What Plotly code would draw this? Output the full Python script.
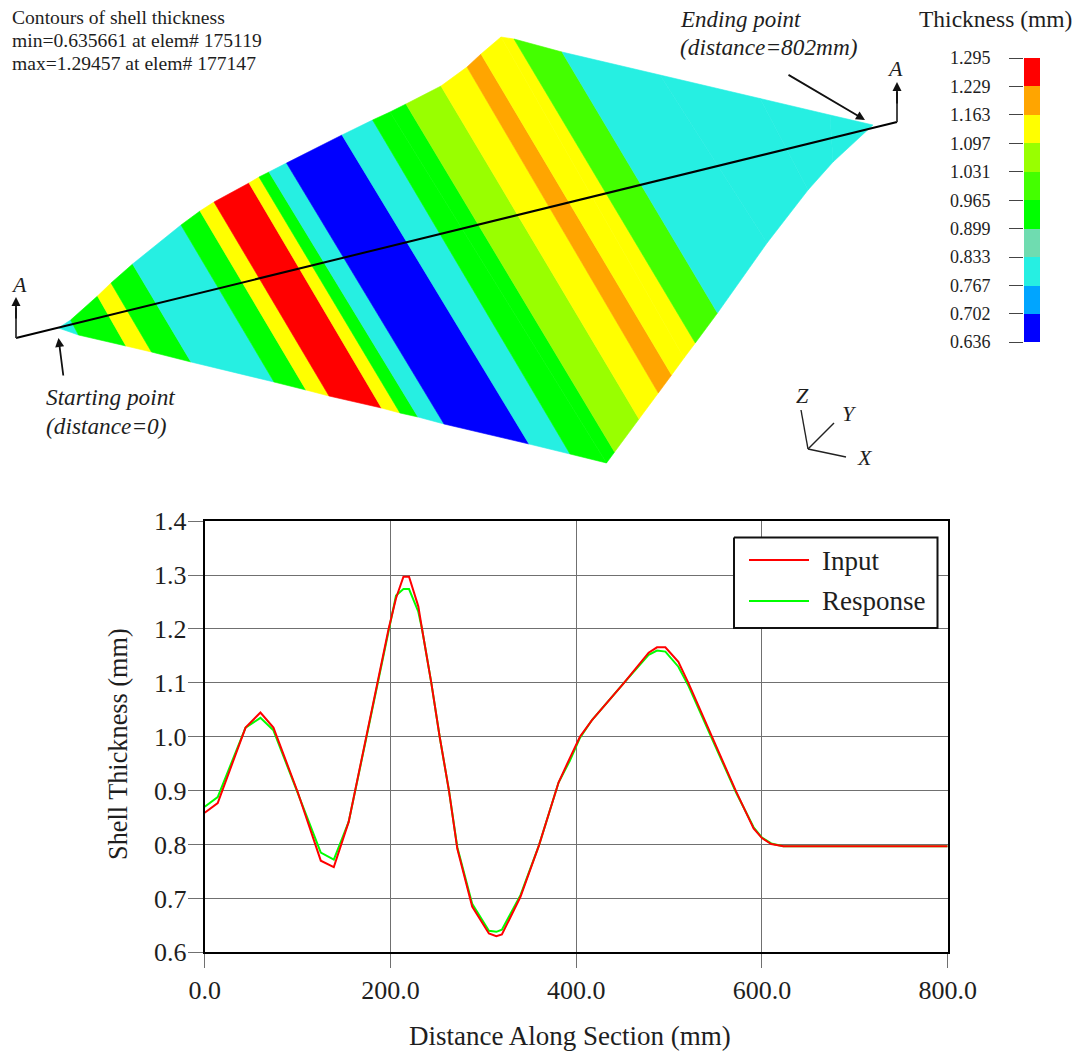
import plotly.graph_objects as go

# ---------- section curves ----------
distance = [0,14,44,60,74,100,125,139,155,175,198,206,214,220,230,234,244,253,263,272,288,306,314,320,340,360,381,393,404,417,451,478,487,496,510,521,546,572,591,600,610,623,700,800]
input_thickness = [.859,.877,1.017,1.045,1.017,.898,.77,.758,.842,1.006,1.2,1.257,1.297,1.297,1.242,1.2,1.1,1.0,.9,.792,.685,.635,.630,.633,.703,.799,.915,.96,1.0,1.031,1.099,1.156,1.166,1.166,1.139,1.099,1.0,.899,.83,.812,.801,.797,.797,.797]
response_thickness = [.87,.888,1.017,1.035,1.012,.898,.785,.772,.842,1.006,1.2,1.262,1.274,1.274,1.232,1.2,1.1,1.0,.9,.795,.69,.640,.638,.642,.706,.799,.915,.955,.998,1.031,1.099,1.152,1.16,1.158,1.13,1.094,.997,.897,.832,.813,.802,.797,.797,.797]

# ---------- colour scale ----------
level_values = [0.636,0.702,0.767,0.833,0.899,0.965,1.031,1.097,1.163,1.229,1.295]
level_labels = ["0.636","0.702","0.767","0.833","0.899","0.965","1.031","1.097","1.163","1.229","1.295"]
BLUE, SKY, CYAN, TEAL, G0, G1, G2, YEL, ORG, RED = "#0000ff","#00a5ff","#26efe2","#6fdcb0","#00ff00","#44ff00","#99ff00","#ffff00","#ffa500","#ff0000"
level_colors = [BLUE,SKY,CYAN,TEAL,G0,G1,G2,YEL,ORG,RED]

# ---------- contour bands of the sheet (drawing-space readings) ----------
edge_upper_x = [58.5,70.6,97.5,111,132.6,181,200,214,249,259,269,286.5,342,372.6,390,406,441,467,481,501,514,562,660,760,830,873,873]
edge_upper_y = [328,320,296,283,264,225,211,202,183,177,172,163,135,120,112,104,86,67,54,37,39,52,75,98.5,115,125,125]
edge_lower_x = [58.5,78.5,126,151.5,191,274,306,329,381.5,400,418,444,529,570,606.5,614.6,639,658.3,671.6,684,695.3,717.5,767,808,833,873,873]
edge_lower_y = [328,335,346,352,362,382,390,396,408,413,417,424,444,454,463,452,419,393,375,358,343,313,243,190,162,125,125]
band_colors = [CYAN,G0,YEL,G0,CYAN,G0,YEL,RED,YEL,G0,CYAN,BLUE,CYAN,G0,G0,G2,YEL,ORG,YEL,YEL,G1,CYAN,CYAN,CYAN,CYAN,CYAN]

section_x = [16,897]
section_y = [338,122]

serif = "Liberation Serif"
ink = "#1e1e1e"
grid = "#707070"
W, H = 1080, 1055

fig = go.Figure()

# main chart
fig.add_trace(go.Scatter(x=distance, y=response_thickness, mode="lines", name="Response",
                         line=dict(color="#00ff00", width=2), showlegend=False))
fig.add_trace(go.Scatter(x=distance, y=input_thickness, mode="lines", name="Input",
                         line=dict(color="#ff0000", width=2), showlegend=False))

# contour bands
for i, c in enumerate(band_colors):
    px = [edge_upper_x[i], edge_upper_x[i+1], edge_lower_x[i+1], edge_lower_x[i], edge_upper_x[i]]
    py = [edge_upper_y[i], edge_upper_y[i+1], edge_lower_y[i+1], edge_lower_y[i], edge_upper_y[i]]
    fig.add_trace(go.Scatter(x=px, y=py, xaxis="x2", yaxis="y2", mode="lines", fill="toself",
                             fillcolor=c, line=dict(color=c, width=0.6), hoverinfo="skip", showlegend=False))

def ink_line(xs, ys, color="#111111", width=1.6):
    fig.add_trace(go.Scatter(x=xs, y=ys, xaxis="x2", yaxis="y2", mode="lines",
                             line=dict(color=color, width=width), hoverinfo="skip", showlegend=False))

ink_line(section_x, section_y, "#000000", 2)
ink_line([16,16], [338,308], "#333333", 1.8)
ink_line([897,897], [122,92], "#333333", 1.8)
ink_line([808,801], [449,410], "#222222", 1.4)
ink_line([808,834], [449,423], "#222222", 1.4)
ink_line([808,846], [449,457], "#222222", 1.4)

# legend box
fig.add_trace(go.Scatter(x=[734,937.5,937.5,734,734], y=[537.5,537.5,628,628,537.5], xaxis="x2", yaxis="y2",
                         mode="lines", fill="toself", fillcolor="white", line=dict(color="#111111", width=2),
                         hoverinfo="skip", showlegend=False))
ink_line([749,809], [560,560], "#ff0000", 2)
ink_line([749,809], [601,601], "#00ff00", 2)

# colour bar as stacked bars on its own value axis
fig.add_trace(go.Bar(x=[0]*10, y=[level_values[i+1]-level_values[i] for i in range(10)], base=level_values[:-1],
                     xaxis="x3", yaxis="y3", marker=dict(color=level_colors, line=dict(width=0)),
                     width=1, hoverinfo="skip", showlegend=False))

def txt(x, y, s, size, italic=False, anchor="left", angle=0):
    if italic:
        s = "<i>" + s + "</i>"
    fig.add_annotation(x=x, y=y, xref="x2", yref="y2", text=s, showarrow=False, xanchor=anchor, yanchor="middle",
                       font=dict(family=serif, size=size, color=ink), align="left", borderpad=0, borderwidth=0,
                       textangle=angle)

txt(12, 17.5, "Contours of shell thickness", 19.6)
txt(12, 40.5, "min=0.635661 at elem# 175119", 19.6)
txt(12, 63, "max=1.29457 at elem# 177147", 19.6)
txt(46, 397, "Starting point", 23.3, True)
txt(46, 426, "(distance=0)", 23.3, True)
txt(680, 19, "Ending point", 23, True)
txt(680, 47, "(distance=802mm)", 23.3, True)
txt(919, 19, "Thickness (mm)", 23.5)
txt(19, 284, "A", 22, True, "center")
txt(895, 68, "A", 22, True, "center")
txt(802, 395, "Z", 22, True, "center")
txt(849, 413, "Y", 22, True, "center")
txt(865, 457, "X", 22, True, "center")
txt(822, 560.5, "Input", 27)
txt(822, 601, "Response", 27)
txt(570, 1036, "Distance Along Section (mm)", 27, False, "center")
txt(118, 744, "Shell Thickness (mm)", 26.3, False, "center", -90)

def arrow(x0, y0, x1, y1, w=1.8, color="#111111"):
    fig.add_annotation(x=x1, y=y1, ax=x0, ay=y0, xref="x2", yref="y2", axref="x2", ayref="y2", text="",
                       showarrow=True, arrowhead=2, arrowsize=1, arrowwidth=w, arrowcolor=color)

arrow(16, 320, 16, 297)
arrow(897, 105, 897, 82)
arrow(63.5, 377, 58.5, 338)
arrow(787, 74, 865, 120)

axis_font = dict(family=serif, size=26, color=ink)

fig.update_layout(
    template="none",
    width=W, height=H, autosize=False, margin=dict(l=0, r=0, t=0, b=0, pad=0, autoexpand=False),
    paper_bgcolor="white", plot_bgcolor="rgba(0,0,0,0)", showlegend=False, barmode="overlay", bargap=0,
    xaxis=dict(domain=[204.7/W, 947.7/W], range=[0, 800], dtick=200, tick0=0, tickformat=".1f",
               showgrid=True, gridcolor=grid, gridwidth=1.4, showline=True, mirror=True, linecolor="#000000", linewidth=2,
               ticks="outside", ticklen=14, tickcolor=grid, tickwidth=1.4, zeroline=False, tickfont=axis_font,
               ticklabelstandoff=-1),
    yaxis=dict(domain=[1-952.3/H, 1-521.2/H], range=[0.6, 1.4], dtick=0.1, tick0=0.6, tickformat=".1f",
               showgrid=True, gridcolor=grid, gridwidth=1.4, showline=True, mirror=True, linecolor="#000000", linewidth=2,
               ticks="outside", ticklen=15, tickcolor=grid, tickwidth=1.4, zeroline=False, tickfont=axis_font,
               ticklabelstandoff=-4),
    xaxis2=dict(domain=[0, 1], range=[0, W], visible=False, anchor="y2", fixedrange=True),
    yaxis2=dict(domain=[0, 1], range=[H, 0], visible=False, anchor="x2", fixedrange=True),
    xaxis3=dict(domain=[1024/W, 1040/W], range=[-0.5, 0.5], visible=False, anchor="y3", fixedrange=True),
    yaxis3=dict(domain=[1-342/H, 1-58/H], range=[0.636, 1.295], anchor="x3", tickmode="array", automargin=False,
                tickvals=level_values, ticktext=level_labels, ticks="outside", ticklen=14, tickcolor="#444444", tickwidth=1,
                showgrid=False, zeroline=False, showline=False, ticklabelstandoff=15,
                tickfont=dict(family=serif, size=18, color=ink), fixedrange=True),
)

fig.write_html("out.html", config=dict(displayModeBar=False),
               post_script="document.body.style.margin='0';document.body.style.overflow='hidden';")
